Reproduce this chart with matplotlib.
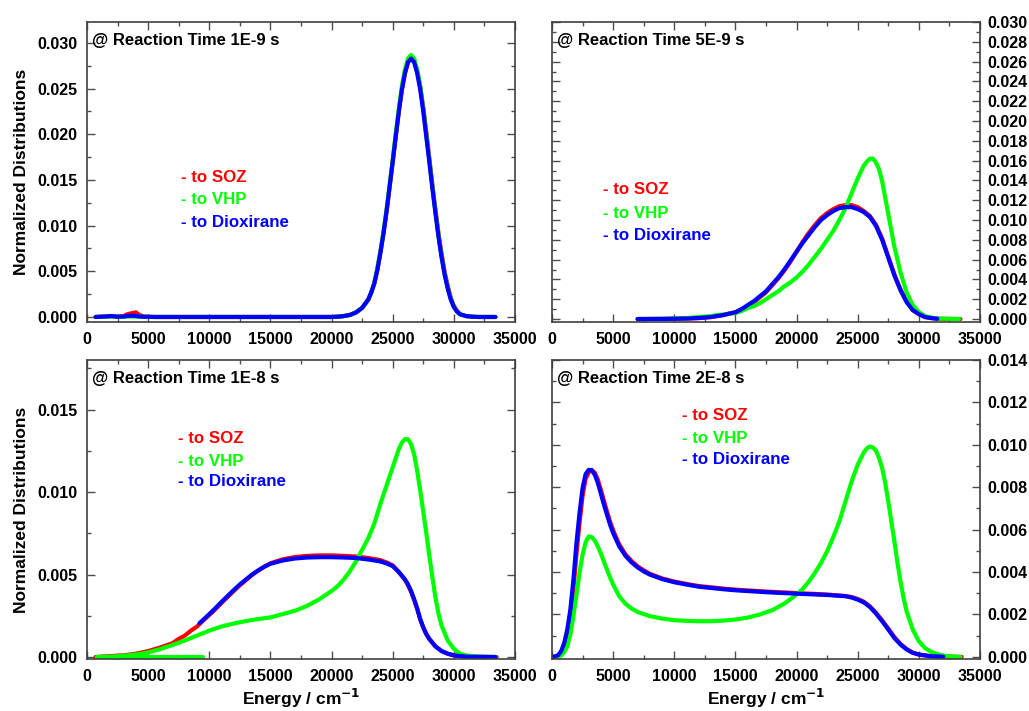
import matplotlib
matplotlib.use("Agg")
import matplotlib.pyplot as plt
from matplotlib.ticker import MultipleLocator, FormatStrFormatter

plt.rcParams['font.family'] = ['Liberation Sans', 'DejaVu Sans']
plt.rcParams['font.weight'] = 'bold'

# ---------------- data ----------------
# Panel 1: 1E-9 s
p1_x = [700, 1500, 2000, 2500, 3000, 3300, 3600, 4000, 4300, 4700, 5500, 8000, 12000, 16000, 20000,
        20500, 21000, 21500, 22000, 22500, 23000, 23250, 23500, 23750, 24000, 24250, 24500, 24750,
        25000, 25250, 25500, 25750, 26000, 26250, 26500, 26750, 27000, 27250, 27500, 27750, 28000,
        28250, 28500, 28750, 29000, 29250, 29500, 29750, 30000, 30250, 30500, 31000, 31500, 32000, 33400]
p1_soz = [0, 0.00005, 0.0001, 0.00003, 0.0001, 0.0003, 0.0004, 0.0005, 0.0002, 0.00005, 0, 0, 0, 0, 0,
          0.00003, 0.0001, 0.00022, 0.0005, 0.001, 0.0019, 0.0027, 0.0037, 0.0052, 0.0071, 0.0092,
          0.0116, 0.0143, 0.017, 0.0198, 0.0225, 0.0249, 0.0267, 0.0279, 0.0283, 0.028, 0.0269,
          0.0252, 0.0229, 0.0202, 0.0173, 0.0144, 0.0117, 0.0091, 0.0069, 0.0049, 0.0034, 0.0021,
          0.0012, 0.0007, 0.0003, 0.0001, 0.00003, 0, 0]
p1_vhp = [0, 0.00003, 0.00005, 0.00003, 0.00003, 0.00005, 0.00005, 0.00005, 0.00003, 0.00002, 0, 0, 0, 0, 0,
          0.00003, 0.0001, 0.00022, 0.0005, 0.001, 0.0019, 0.0027, 0.0038, 0.0054, 0.0072, 0.0094,
          0.0118, 0.0145, 0.0173, 0.0201, 0.0228, 0.0253, 0.0271, 0.0283, 0.0287, 0.0283, 0.0271,
          0.0253, 0.0228, 0.02, 0.0171, 0.0142, 0.0115, 0.0089, 0.0066, 0.0047, 0.0032, 0.002,
          0.0011, 0.0006, 0.0003, 0.0001, 0.00003, 0, 0]
p1_diox = [0, 0.00005, 0.0001, 0.00003, 0.00005, 0.0001, 0.00015, 0.0001, 0.00005, 0.00002, 0, 0, 0, 0, 0,
           0.00003, 0.0001, 0.00022, 0.0005, 0.001, 0.0019, 0.0027, 0.0037, 0.0052, 0.0071, 0.0092,
           0.0116, 0.0143, 0.017, 0.0198, 0.0225, 0.0249, 0.0267, 0.0279, 0.0283, 0.0279, 0.0267,
           0.0249, 0.0225, 0.0197, 0.0169, 0.014, 0.0113, 0.0087, 0.0065, 0.0046, 0.0031, 0.0019,
           0.0011, 0.0006, 0.0003, 0.0001, 0.00003, 0, 0]

# Panel 2: 5E-9 s
p2_x = [7000, 9000, 11000, 12000, 12500, 13000, 13500, 14000, 14500, 15000, 15500, 16000, 16500, 17000,
        17500, 18000, 18500, 19000, 19500, 20000, 20500, 21000, 21500, 22000, 22500, 23000, 23500,
        24000, 24500, 25000, 25500, 26000, 26500, 27000, 27500, 28000, 28500, 29000, 29500, 30000,
        30500, 31000, 31500, 33400]
p2_soz = [0, 0.00001, 0.00005, 0.0001, 0.00015, 0.0002, 0.0003, 0.0004, 0.00055, 0.00068, 0.001, 0.0013,
          0.0017, 0.0022, 0.0027, 0.0034, 0.0041, 0.0049, 0.0058, 0.0068, 0.0078, 0.0087, 0.0095,
          0.0102, 0.0107, 0.0111, 0.0114, 0.0115, 0.0115, 0.0113, 0.0109, 0.0104, 0.0095, 0.0081,
          0.0063, 0.0045, 0.003, 0.0018, 0.0009, 0.0005, 0.0002, 0.0001, 0.00003, 0]
p2_diox = [0, 0.00001, 0.00005, 0.0001, 0.00015, 0.0002, 0.0003, 0.0004, 0.00055, 0.00068, 0.001, 0.0014,
           0.0018, 0.0023, 0.0028, 0.0035, 0.0042, 0.005, 0.0059, 0.0068, 0.0077, 0.0085, 0.0093,
           0.01, 0.0105, 0.0109, 0.0112, 0.0113, 0.0113, 0.0111, 0.0108, 0.0103, 0.0094, 0.008,
           0.0062, 0.0044, 0.0029, 0.0017, 0.0009, 0.0005, 0.0002, 0.0001, 0.00003, 0]
p2_vhp_x = [7000, 9000, 11000, 12000, 12500, 13000, 13500, 14000, 14500, 15000, 15500, 16000, 16500,
            17000, 17500, 18000, 18500, 19000, 19500, 20000, 20500, 21000, 21500, 22000, 22500, 23000,
            23500, 24000, 24500, 25000, 25500, 25750, 26000, 26250, 26500, 26750, 27000, 27500, 28000,
            28500, 29000, 29500, 30000, 30500, 31000, 31500, 33300]
p2_vhp = [0, 0.00002, 0.0001, 0.0002, 0.00025, 0.0003, 0.0004, 0.00045, 0.00052, 0.0006, 0.0008, 0.0011,
          0.0013, 0.0016, 0.002, 0.0024, 0.0028, 0.0033, 0.0037, 0.0042, 0.0048, 0.0055, 0.0063,
          0.0071, 0.008, 0.0089, 0.01, 0.0112, 0.0127, 0.0142, 0.0155, 0.0159, 0.0162, 0.0162, 0.0158,
          0.0151, 0.0139, 0.0106, 0.0073, 0.0047, 0.0027, 0.0014, 0.0007, 0.0003, 0.00015, 0.00005, 0]

# Panel 3: 1E-8 s
p3_soz_x = [700, 2450, 3000, 4000, 5000, 6000, 7000, 7500, 8000, 8500, 9000, 9200, 10000, 10500, 11000,
            11500, 12000, 12500, 13000, 13500, 14000, 14500, 15000, 16000, 17000, 18000, 19000, 20000,
            21000, 22000, 23000, 24000, 24500, 25000, 25500, 26000, 26250, 26500, 26750, 27000, 27250,
            27500, 27750, 28000, 28500, 29000, 29500, 30000, 31000, 33500]
p3_soz = [0, 0.00008, 0.0001, 0.0002, 0.00036, 0.00058, 0.00084, 0.0011, 0.0013, 0.0016, 0.00185,
          0.002, 0.00255, 0.0029, 0.00328, 0.00364, 0.004, 0.00435, 0.00466, 0.00497, 0.00524, 0.00548,
          0.00568, 0.00592, 0.00606, 0.00613, 0.00616, 0.00616, 0.00613, 0.00609, 0.006, 0.00587,
          0.00573, 0.00555, 0.00515, 0.00468, 0.00436, 0.00396, 0.00347, 0.00292, 0.00229, 0.00179,
          0.00139, 0.00109, 0.00064, 0.00036, 0.0002, 0.0001, 0.00002, 0]
p3_diox_x = [9200, 10000, 10500, 11000, 11500, 12000, 12500, 13000, 13500, 14000, 14500, 15000, 16000,
             17000, 18000, 19000, 20000, 21000, 22000, 23000, 24000, 24500, 25000, 25500, 26000, 26250,
             26500, 26750, 27000, 27250, 27500, 27750, 28000, 28500, 29000, 29500, 30000, 31000, 33400]
p3_diox = [0.00205, 0.0026, 0.00296, 0.00334, 0.0037, 0.00406, 0.0044, 0.0047, 0.005, 0.00525, 0.00547,
           0.00565, 0.00585, 0.00597, 0.00603, 0.00605, 0.00605, 0.00603, 0.006, 0.00591, 0.00579,
           0.00567, 0.00551, 0.00515, 0.0047, 0.0044, 0.004, 0.0035, 0.00294, 0.00229, 0.00179,
           0.00139, 0.00109, 0.00064, 0.00036, 0.0002, 0.0001, 0.00002, 0]
p3_vhp_x = [800, 2500, 4000, 5000, 6000, 7000, 8000, 9000, 10000, 11000, 12000, 13000, 14000, 15000,
            16000, 17000, 18000, 19000, 20000, 20500, 21000, 21500, 22000, 22500, 23000, 23500, 24000,
            24500, 25000, 25500, 25750, 26000, 26250, 26500, 26750, 27000, 27250, 27500, 27750, 28000,
            28250, 28500, 28750, 29000, 29500, 30000, 30500, 31000, 32000, 33400]
p3_vhp = [0, 0.00004, 0.00015, 0.00028, 0.00048, 0.00073, 0.001, 0.0013, 0.0016, 0.00185, 0.00203,
          0.00218, 0.0023, 0.0024, 0.0026, 0.0028, 0.0031, 0.0035, 0.004, 0.0043, 0.0047, 0.0052,
          0.0058, 0.0065, 0.0072, 0.0081, 0.0093, 0.0104, 0.0115, 0.0126, 0.013, 0.0132, 0.0132,
          0.0129, 0.0123, 0.0113, 0.0101, 0.0088, 0.0075, 0.0061, 0.0048, 0.0036, 0.0026, 0.0019,
          0.001, 0.0005, 0.0002, 0.0001, 0.00002, 0]
p3_vhp_base_x = [1000, 9500]
p3_vhp_base = [0, 0]

# Panel 4: 2E-8 s
p4_x = [0, 250, 500, 750, 1000, 1250, 1500, 1750, 2000, 2250, 2500, 2750, 3000, 3250, 3500, 3750, 4000,
        4250, 4500, 4750, 5000, 5500, 6000, 6500, 7000, 7500, 8000, 9000, 10000, 11000, 12000, 13000,
        14000, 15000, 17500, 20000, 22500, 24000, 24500, 25000, 25500, 26000, 26500, 27000, 27500,
        28000, 28500, 29000, 29500, 30000, 31000, 32000, 33500]
p4_soz = [0, 0.00001, 0.00005, 0.0002, 0.00052, 0.00108, 0.00192, 0.00318, 0.00485, 0.0063, 0.0076,
          0.0084, 0.0087, 0.00882, 0.00868, 0.00835, 0.00787, 0.00735, 0.00685, 0.00637, 0.00597,
          0.0053, 0.00484, 0.00452, 0.00427, 0.00408, 0.00392, 0.0037, 0.00355, 0.00344, 0.00334,
          0.00328, 0.00322, 0.00317, 0.00308, 0.00301, 0.00294, 0.00287, 0.00282, 0.00273, 0.0026,
          0.00238, 0.00208, 0.00172, 0.00133, 0.00093, 0.00061, 0.00037, 0.0002, 0.00011, 0.00003,
          0.00001, 0]
p4_diox = [0, 0.00002, 0.00008, 0.00027, 0.00066, 0.00129, 0.00223, 0.00364, 0.00537, 0.00678, 0.00796,
           0.00862, 0.00882, 0.00879, 0.00859, 0.0082, 0.00769, 0.00717, 0.0067, 0.00623, 0.00584,
           0.00521, 0.00477, 0.00446, 0.00422, 0.00403, 0.00388, 0.00367, 0.00352, 0.00341, 0.00331,
           0.00325, 0.00319, 0.00314, 0.00305, 0.00298, 0.00292, 0.00286, 0.0028, 0.0027, 0.00257,
           0.00235, 0.00204, 0.00168, 0.00129, 0.00089, 0.00058, 0.00035, 0.00019, 0.00011, 0.00003,
           0.00001, 0]
p4_vhp_x = [300, 500, 750, 1000, 1250, 1500, 1750, 2000, 2250, 2500, 2750, 3000, 3250, 3500, 3750, 4000,
            4250, 4500, 4750, 5000, 5500, 6000, 6500, 7000, 8000, 9000, 10000, 11000, 12000, 13000,
            14000, 15000, 16000, 17000, 18000, 19000, 20000, 20500, 21000, 21500, 22000, 22500, 23000,
            23500, 24000, 24500, 25000, 25500, 25750, 26000, 26250, 26500, 26750, 27000, 27250, 27500,
            27750, 28000, 28250, 28500, 28750, 29000, 29500, 30000, 30500, 31000, 31500, 32000, 32700,
            33400]
p4_vhp = [0, 0.00002, 0.00006, 0.00022, 0.0005, 0.00105, 0.00192, 0.00294, 0.00396, 0.00482, 0.0054,
          0.00568, 0.00565, 0.00548, 0.00521, 0.00487, 0.00449, 0.00411, 0.00374, 0.00341, 0.00286,
          0.00251, 0.00228, 0.00212, 0.00192, 0.00181, 0.00173, 0.0017, 0.00168, 0.00168, 0.00171,
          0.00176, 0.00185, 0.002, 0.0022, 0.00251, 0.00294, 0.0032, 0.00355, 0.00396, 0.00443,
          0.00498, 0.00565, 0.00639, 0.00733, 0.00827, 0.00906, 0.00964, 0.00984, 0.00992, 0.00987,
          0.00972, 0.00937, 0.0089, 0.0082, 0.00733, 0.00639, 0.00545, 0.00443, 0.00356, 0.00278,
          0.00215, 0.00129, 0.00074, 0.00042, 0.00024, 0.00013, 0.00006, 0.00002, 0]

titles = ["@ Reaction Time 1E-9 s", "@ Reaction Time 5E-9 s",
          "@ Reaction Time 1E-8 s", "@ Reaction Time 2E-8 s"]
legend_labels = ["- to SOZ", "- to VHP", "- to Dioxirane"]
x_ticks = [0, 5000, 10000, 15000, 20000, 25000, 30000, 35000]

RED, GREEN, BLUE = '#ff0000', '#00ff00', '#0000ff'
colors = [RED, GREEN, BLUE]

# ---------------- figure ----------------
fig = plt.figure(figsize=(10.29, 7.11), dpi=100)
W, H = 1029, 711

def make_ax(l, t, r, b):
    return fig.add_axes([l / W, 1 - b / H, (r - l) / W, (b - t) / H])

ax1 = make_ax(87, 22, 515, 322)
ax2 = make_ax(552, 22, 980, 322)
ax3 = make_ax(87, 360, 515, 659)
ax4 = make_ax(552, 360, 980, 659)

LW = 3.0
kw = dict(lw=LW, solid_capstyle='round', solid_joinstyle='round')

ax1.plot(p1_x, p1_soz, color=RED, **kw)
ax1.plot(p1_x, p1_vhp, color=GREEN, **kw)
ax1.plot(p1_x, p1_diox, color=BLUE, **kw)

ax2.plot(p2_x, p2_soz, color=RED, **kw)
ax2.plot(p2_vhp_x, p2_vhp, color=GREEN, **kw)
ax2.plot(p2_x[:-1], p2_diox[:-1], color=BLUE, **kw)

ax3.plot(p3_soz_x, p3_soz, color=RED, **kw)
ax3.plot(p3_vhp_base_x, p3_vhp_base, color=GREEN, **kw)
ax3.plot(p3_vhp_x, p3_vhp, color=GREEN, **kw)
ax3.plot(p3_diox_x, p3_diox, color=BLUE, **kw)

ax4.plot(p4_x, p4_soz, color=RED, **kw)
ax4.plot(p4_vhp_x, p4_vhp, color=GREEN, **kw)
ax4.plot(p4_x[:-1], p4_diox[:-1], color=BLUE, **kw)

ylims = [(-0.00055, 0.0323), (-0.0003, 0.0300), (-0.00012, 0.0180), (-0.0001, 0.0140)]
ymaj = [0.005, 0.002, 0.005, 0.002]
ymin = [0.0025, 0.001, 0.0025, 0.001]

legend_pos = [(0.22, [0.48, 0.407, 0.333]),
              (0.119, [0.44, 0.363, 0.29]),
              (0.213, [0.736, 0.662, 0.592]),
              (0.304, [0.813, 0.739, 0.666])]

for i, ax in enumerate([ax1, ax2, ax3, ax4]):
    ax.set_xlim(0, 35000)
    ax.set_ylim(*ylims[i])
    ax.set_xticks(x_ticks)
    ax.set_xticklabels([str(v) for v in x_ticks])
    ax.xaxis.set_minor_locator(MultipleLocator(2500))
    ax.yaxis.set_major_locator(MultipleLocator(ymaj[i]))
    ax.yaxis.set_minor_locator(MultipleLocator(ymin[i]))
    ax.yaxis.set_major_formatter(FormatStrFormatter("%.3f"))
    for s in ax.spines.values():
        s.set_color('0.25')
        s.set_linewidth(1.2)
    right = i in (1, 3)
    ax.tick_params(which='both', direction='in', top=True, right=True, color='0.3',
                   labelsize=11.6, labelcolor='black',
                   labelleft=not right, labelright=right)
    ax.tick_params(which='major', length=6, width=1)
    ax.tick_params(which='minor', length=3, width=1)
    ax.tick_params(axis='x', which='major', pad=7.5)
    ax.tick_params(axis='y', which='major', pad=5 if right else 7)
    for lab in ax.get_xticklabels() + ax.get_yticklabels():
        lab.set_fontweight('bold')
    ax.text(0.011, 0.937, titles[i], transform=ax.transAxes, ha='left', va='center',
            fontsize=12, fontweight='bold', color='black')
    lx, lys = legend_pos[i]
    for lab, c, ly in zip(legend_labels, colors, lys):
        ax.text(lx, ly, lab, transform=ax.transAxes, ha='left', va='center',
                fontsize=12.2, fontweight='bold', color=c)

for ax in (ax1, ax3):
    ax.set_ylabel("Normalized Distributions", fontsize=12.5, fontweight='bold', labelpad=6)
for ax in (ax3, ax4):
    ax.set_xlabel("Energy / cm$^{\\mathbf{-1}}$", fontsize=12.5, fontweight='bold', labelpad=2)

fig.savefig("out.png", dpi=100)
